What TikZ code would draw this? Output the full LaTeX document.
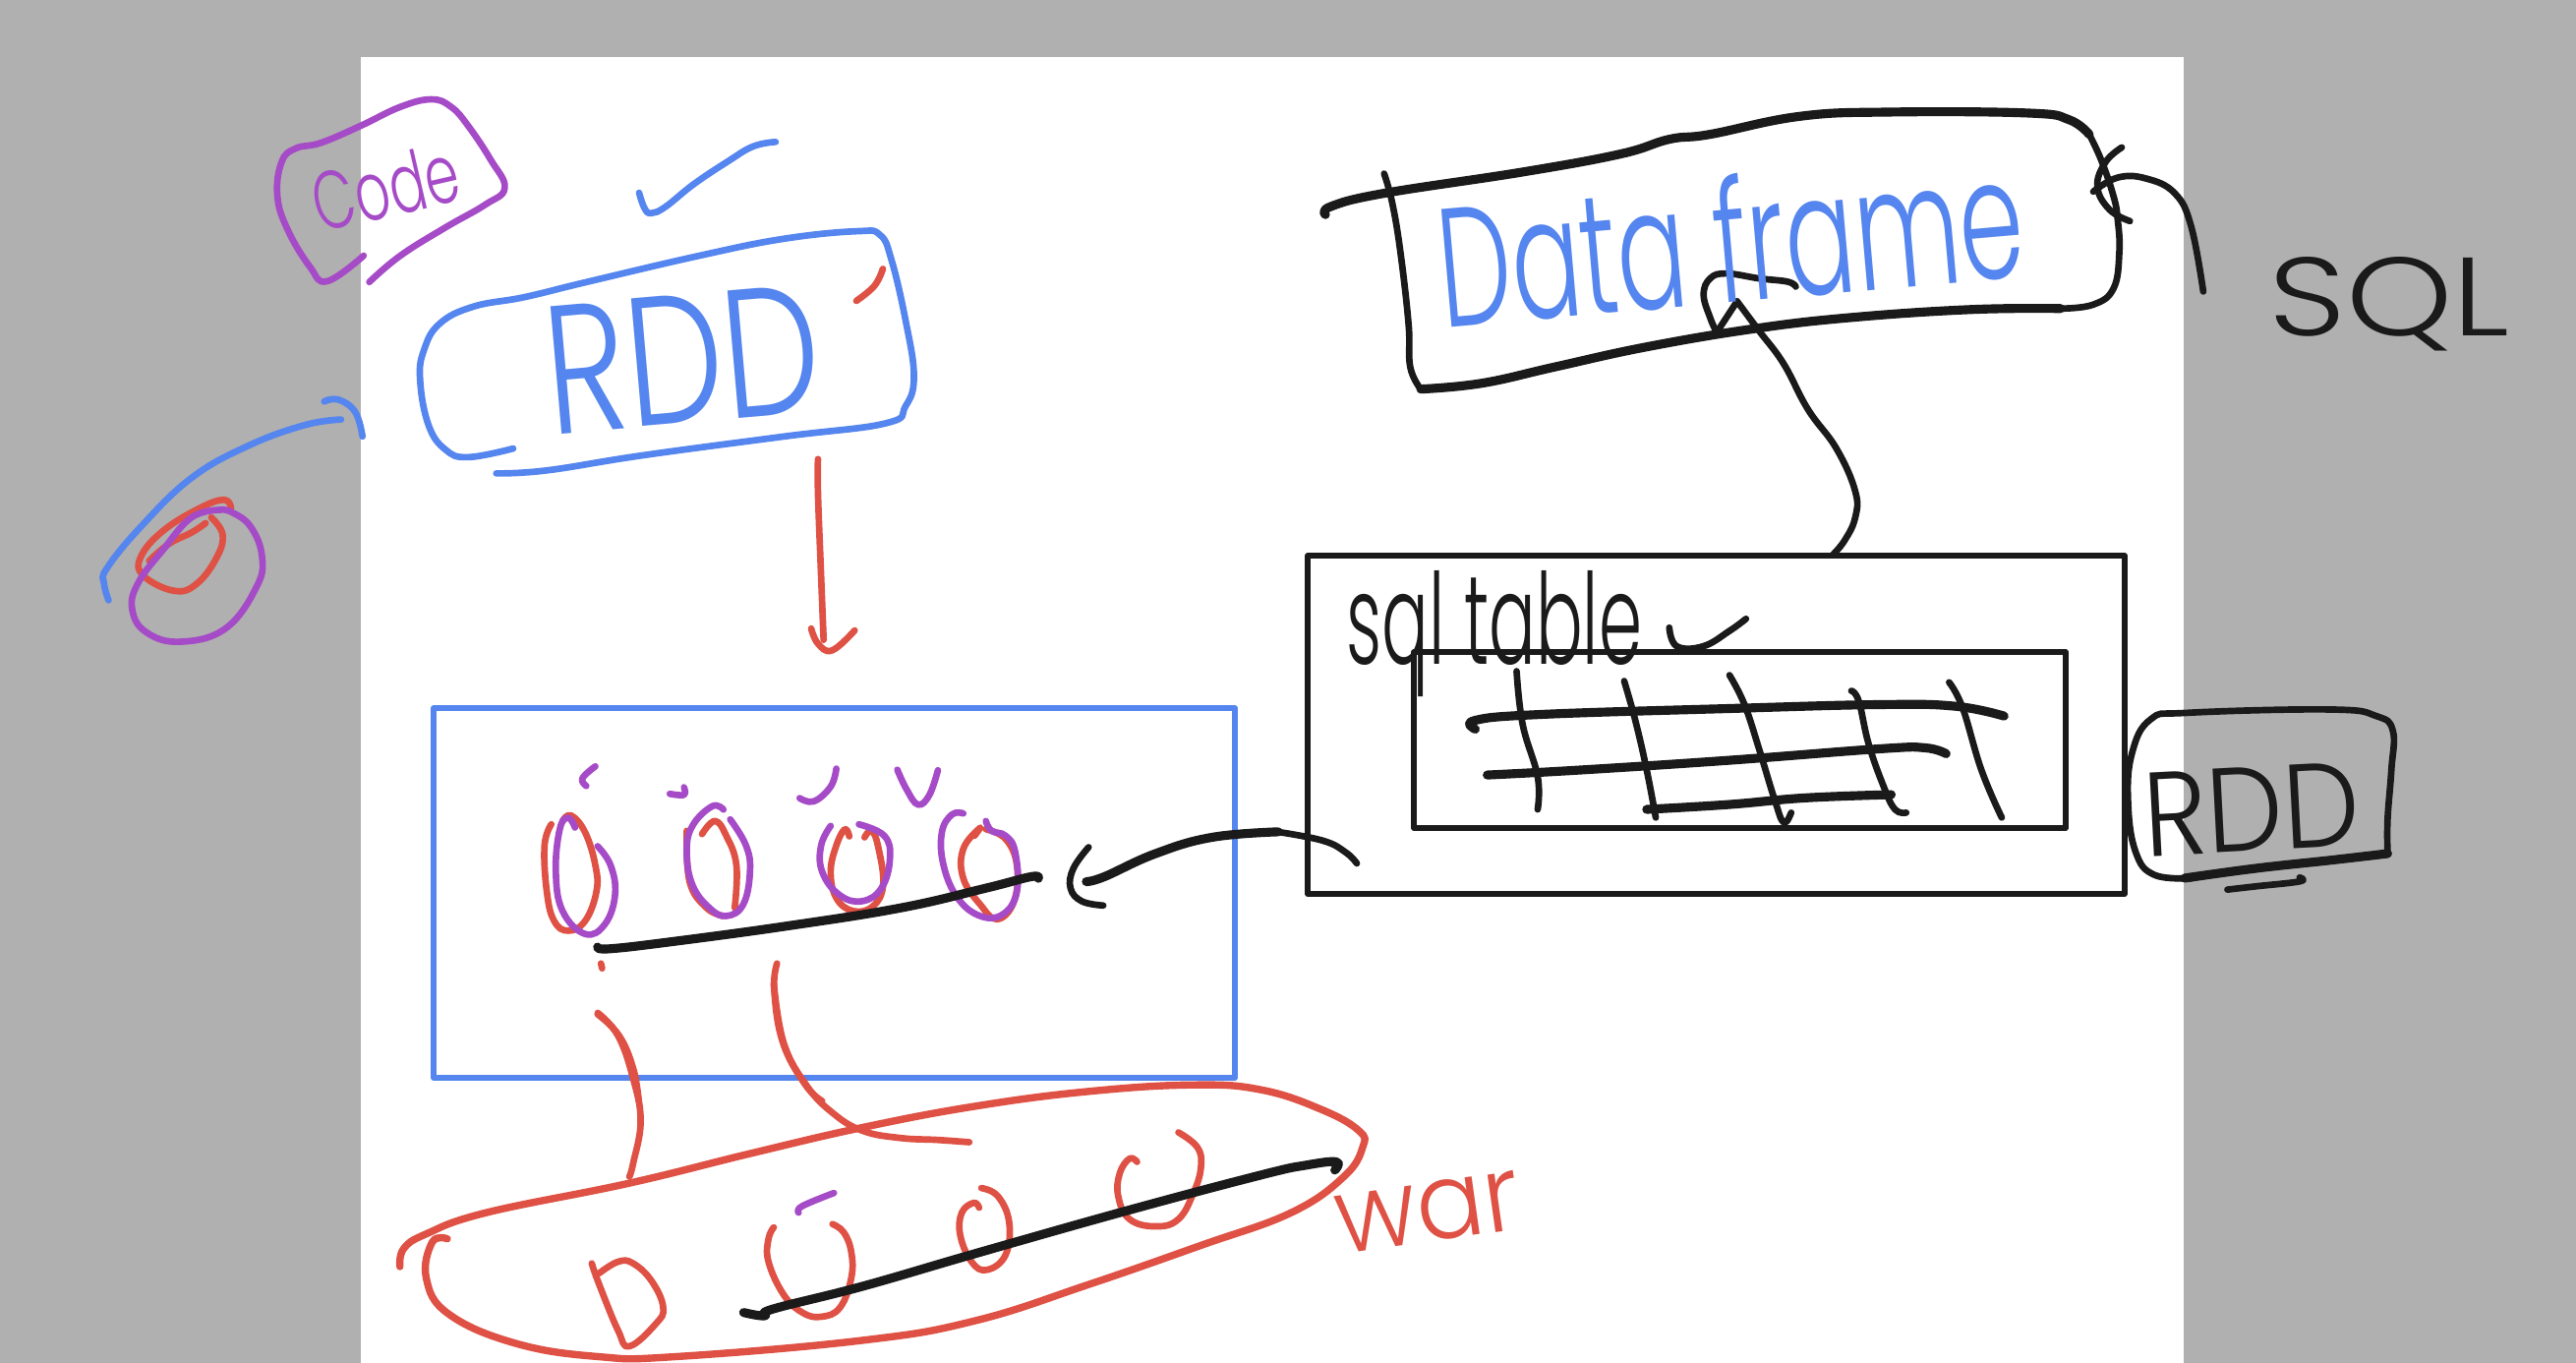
\documentclass[tikz,border=0pt]{standalone}
\usepackage{fontspec}
\usepackage{graphicx}
\setmainfont{Poppins}[UprightFont=* Light]
\definecolor{inkblue}{HTML}{5585EE}
\definecolor{inkred}{HTML}{DE5144}
\definecolor{inkpurple}{HTML}{A64BC7}
\definecolor{inkblack}{HTML}{1A1A1A}
\definecolor{pagegray}{HTML}{B0B0B0}
\newcommand\ink[2]{\draw[#1] plot[smooth,tension=.7] coordinates {#2};}
\newcommand\handtext[3]{\resizebox{#1cm}{#2cm}{#3}}
\tikzset{
  pen/.style={line cap=round,line join=round,line width=1.9pt},
  bl/.style={pen,draw=inkblue},
  rd/.style={pen,draw=inkred},
  pp/.style={pen,draw=inkpurple},
  bk/.style={pen,draw=inkblack},
  fat pen/.style={line width=2.6pt},
  word/.style={inner sep=0pt,outer sep=0pt}
}
\begin{document}
\begin{tikzpicture}[x=0.01cm,y=-0.01cm]
\useasboundingbox (0,0) rectangle (2620,1386);
\fill[pagegray] (0,0) rectangle (2620,1386);
\fill[white] (367,58) rectangle (2221,1386);

% ---- frames
\draw[inkblue,line width=1.6pt,line join=round] (441,720) rectangle (1256,1096);
\draw[inkblack,line width=1.6pt,line join=round] (1330,565) rectangle (2161,909);
\draw[inkblack,line width=1.6pt,line join=round] (1438,663) rectangle (2101,842);

% ---- upper left strokes
\begin{scope}[shift={(80,80)},xscale=.574,yscale=.383]
\ink{pp}{(505,470)(440,538)(410,500)(370,400)(352,310)(360,220)(385,185)(430,170)(500,125)(570,75)(625,55)(660,75)(690,125)(730,215)(755,290)(720,335)(650,395)(570,470)(515,540)}
\ink{bl}{(993,303)(1003,345)(1015,357)(1040,340)(1090,280)(1150,220)(1195,180)(1235,168)}
\ink{bl}{(770,982)(690,1005)(650,985)(620,920)(605,800)(612,720)(640,650)(700,605)(790,580)(900,540)(1100,470)(1250,425)(1380,405)(1420,415)(1440,480)(1465,640)(1480,790)(1465,870)(1430,915)(1250,950)(1000,1000)(830,1040)(740,1048)}
\ink{rd}{(1378,590)(1410,550)(1425,505)}
\ink{bl}{(435,857)(460,852)(490,885)(503,950)}
\ink{bl}{(465,905)(400,920)(300,975)(200,1060)(110,1190)(50,1300)(45,1340)(53,1385)}
\ink{rd}{(270,1140)(258,1118)(215,1140)(150,1200)(110,1270)(115,1320)(170,1360)(210,1340)(245,1270)(255,1210)(235,1165)}
\ink{rd}{(225,1180)(200,1205)(160,1235)(125,1280)}
\ink{pp}{(250,1145)(200,1165)(150,1250)(105,1340)(95,1410)(120,1470)(180,1495)(260,1460)(315,1350)(325,1270)(305,1190)(270,1150)(250,1145)}
\ink{rd}{(1310,1010)(1310,1100)(1315,1300)(1320,1490)}
\ink{rd}{(1298,1460)(1310,1500)(1335,1518)(1375,1465)}
\end{scope}

% ---- data frame box and SQL arc
\begin{scope}[shift={(1300,90)},xscale=.829,yscale=.333]
\ink{bk,fat pen}{(58,385)(65,360)(130,320)(300,255)(420,200)(480,155)(530,140)(640,85)(750,72)(920,75)(970,95)(995,140)}
\ink{bk}{(995,140)(1010,220)(1025,330)(1030,400)(1032,500)(1025,610)(1000,660)(960,672)}
\ink{bk,fat pen}{(960,672)(850,675)(700,700)(580,735)(450,790)(340,850)(250,900)(175,918)}
\ink{bk}{(175,918)(162,850)(160,720)(150,500)(140,350)(130,260)}
\ink{bk}{(1035,180)(1015,225)(1005,300)(1020,370)(1045,405)}
\ink{bk}{(1000,315)(1030,272)(1065,275)(1100,320)(1120,420)(1135,620)}
\ink{bk}{(635,605)(625,590)(590,580)(550,565)(530,580)(522,630)(530,700)(538,745)}
\draw[bk] (538,745) -- (563,650);
\ink{bk}{(563,650)(590,740)(620,840)(650,980)(685,1100)(708,1230)(708,1310)(695,1380)(680,1425)}
\end{scope}

% ---- table grid, checks, RDD box
\begin{scope}[shift={(1300,550)},xscale=.765,yscale=.333]
\ink{bk}{(317,398)(325,560)(345,720)(345,820)}
\ink{bk}{(460,428)(475,550)(490,700)(502,845)}
\ink{bk}{(600,410)(620,500)(640,640)(660,790)(672,860)(682,830)}
\ink{bk}{(762,458)(772,490)(785,620)(805,750)(820,820)(835,830)}
\ink{bk}{(892,432)(910,510)(935,700)(962,845)}
\ink{bk,fat pen}{(262,575)(262,548)(350,530)(600,512)(800,500)(900,505)(965,535)}
\ink{bk,fat pen}{(278,715)(400,700)(600,670)(800,635)(860,632)(888,650)}
\ink{bk,fat pen}{(490,820)(600,805)(700,785)(815,775)}
\ink{bk}{(520,265)(530,322)(565,322)(600,275)(622,238)}
\ink{bk}{(1215,1030)(1165,1020)(1140,950)(1130,800)(1135,650)(1160,545)(1210,525)(1400,515)(1460,535)(1482,580)(1480,700)(1475,850)(1475,950)}
\ink{bk,fat pen}{(1475,955)(1400,975)(1300,1000)(1205,1030)}
\ink{bk}{(1262,1065)(1300,1055)(1358,1040)(1358,1028)}
\end{scope}

% ---- partition ellipses
\begin{scope}[shift={(400,720)},xscale=.574,yscale=.333]
\ink{pp}{(358,178)(335,215)(342,238)}
\ink{pp}{(490,262)(515,265)(515,242)}
\ink{pp}{(720,275)(745,285)(775,240)(785,185)}
\ink{pp}{(893,188)(910,250)(930,295)(950,265)(965,190)}
\ink{rd}{(280,355)(268,420)(272,560)(285,650)(310,680)(340,650)(360,560)(358,480)(340,380)(315,328)(300,345)}
\ink{pp}{(322,365)(310,335)(295,370)(288,500)(300,620)(340,690)(375,660)(393,570)(385,480)(362,422)}
\ink{rd}{(547,385)(570,345)(590,390)(608,480)(605,610)}
\ink{rd}{(520,375)(525,530)(555,610)(585,635)}
\ink{pp}{(585,310)(565,300)(530,360)(520,440)(530,540)(560,610)(590,635)(620,600)(632,500)(625,420)(597,340)}
\ink{rd}{(808,392)(800,370)(785,420)(775,500)(785,580)(815,620)(850,605)(868,540)(860,430)(848,375)(835,395)}
\ink{pp}{(775,360)(758,420)(760,500)(790,570)(830,590)(865,550)(880,460)(870,390)(825,355)}
\ink{rd}{(1030,390)(1040,365)(1010,430)(1010,520)(1040,600)(1070,645)(1100,590)(1105,480)(1085,400)(1050,370)}
\ink{pp}{(1010,322)(990,325)(972,380)(975,480)(1000,580)(1040,635)(1080,630)(1105,560)(1102,440)(1085,390)(1060,375)(1050,345)}
\ink{bk,fat pen}{(362,730)(385,735)(500,712)(700,665)(900,610)(1050,550)(1130,515)(1143,520)}
\ink{bk}{(1232,425)(1205,490)(1200,550)(1220,590)(1258,603)}
\ink{bk,fat pen}{(1228,530)(1260,515)(1350,445)(1450,395)(1568,378)}
\draw[rd] (368,780) -- (370,795);
\ink{rd}{(362,935)(400,1000)(425,1100)(435,1200)}
\ink{rd}{(680,780)(675,860)(690,1020)(730,1150)(760,1200)}
\end{scope}
\ink{bk}{(1300,846)(1346,855)(1369,867)(1380,878)}

% ---- lower blob
\begin{scope}[shift={(380,1000)},xscale=.765,yscale=.333]
\ink{rd}{(298,90)(325,160)(345,290)(355,420)(345,550)(340,590)}
\ink{rd}{(532,0)(545,180)(575,310)(610,395)(650,450)(700,472)(750,478)(792,485)}
\ink{rd,line width=2.1pt}{(35,865)(40,810)(70,765)(150,700)(340,610)(500,520)(650,440)(800,375)(950,330)(1090,310)(1180,325)(1260,385)(1310,450)(1315,500)(1290,590)(1220,700)(1100,800)(950,920)(800,1030)(650,1090)(400,1140)(300,1140)(190,1100)(100,1010)(70,900)(78,790)(98,780)}
\ink{rd}{(300,885)(325,850)(345,855)(370,910)(385,990)(375,1040)(340,1108)(325,1060)(300,920)(290,855)}
\ink{rd}{(532,745)(525,780)(525,850)(545,950)(570,1005)(595,1018)(620,990)(635,900)(635,820)(625,760)(610,735)}
\ink{pp}{(565,700)(570,680)(612,640)}
\ink{rd}{(805,685)(798,670)(782,700)(780,770)(795,850)(815,875)(840,830)(845,730)(830,650)(808,625)}
\ink{rd}{(1015,545)(1005,535)(992,580)(990,650)(1005,720)(1040,742)(1070,720)(1090,640)(1100,560)(1095,500)(1070,455)}
\ink{bk,fat pen}{(492,1005)(520,1015)(530,995)(650,925)(800,825)(1000,695)(1180,585)(1240,555)(1280,545)(1278,570)}
\end{scope}

% ---- words
\node[word,text=inkpurple,rotate=13] (code) at (392,190) {\handtext{1.5}{0.62}{Code}};
\node[word,text=inkblue,rotate=5] (rddtop) at (694,365) {\handtext{2.8}{1.3}{RDD}};
\node[word,text=inkblue,rotate=5] (dataframe) at (1760,243) {\handtext{5.96}{1.3}{Data frame}};
\node[word,text=inkblack] (sql) at (2430,309) {\handtext{2.45}{0.8}{SQL}};
\node[word,text=inkblack] (sqltable) at (1520,645) {\handtext{3.0}{0.95}{sql table}};
\node[word,text=inkblack,rotate=3] (rddright) at (2290,823) {\handtext{2.2}{0.85}{RDD}};
\node[word,text=inkred,rotate=8] (war) at (1453,1233) {\handtext{1.88}{0.6}{war}};
\end{tikzpicture}
\end{document}
